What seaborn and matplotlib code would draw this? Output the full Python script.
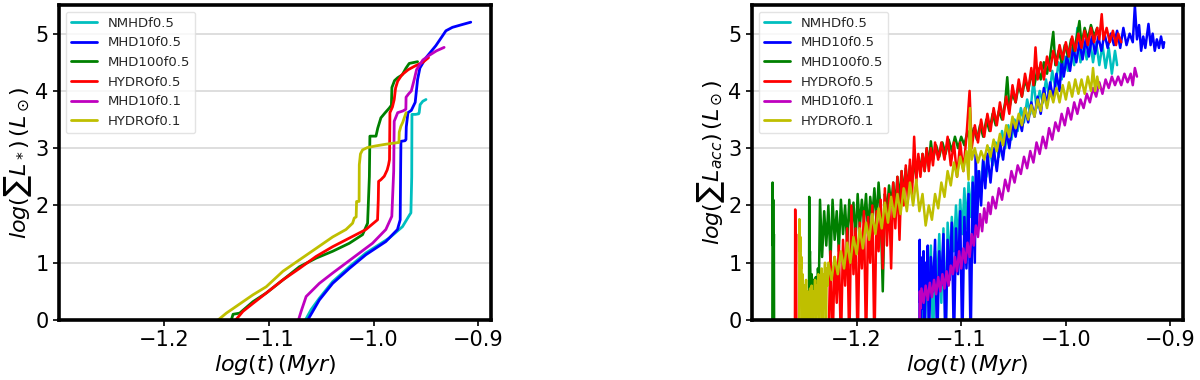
import numpy as np
import pandas as pd
import matplotlib
matplotlib.use("Agg")
import matplotlib.pyplot as plt
import seaborn as sns

# ---------------- data ----------------
series_names = ["NMHDf0.5", "MHD10f0.5", "MHD100f0.5", "HYDROf0.5", "MHD10f0.1", "HYDROf0.1"]
series_colors = ["#00bfbf", "#0000ff", "#008000", "#ff0000", "#bf00bf", "#bfbf00"]
x_ticks = [-1.2, -1.1, -1.0, -0.9]
y_ticks = [0, 1, 2, 3, 4, 5]

# Left panel: log(sum L_*)
L_nmhd05 = [(-1.0650, 0.00), (-1.0596, 0.18), (-1.0517, 0.38), (-1.0390, 0.67), (-1.0231, 0.93),
            (-1.0073, 1.17), (-0.9851, 1.43), (-0.9724, 1.63), (-0.9655, 1.84), (-0.9644, 1.87),
            (-0.9636, 2.50), (-0.9634, 3.59), (-0.9600, 3.59), (-0.9570, 3.60), (-0.9565, 3.62),
            (-0.9556, 3.76), (-0.9530, 3.82), (-0.9500, 3.85)]
L_mhd10f05 = [(-1.0628, 0.00), (-1.0580, 0.15), (-1.0517, 0.35), (-1.0390, 0.64), (-1.0231, 0.90),
              (-1.0073, 1.14), (-0.9883, 1.37), (-0.9772, 1.58), (-0.9746, 1.75), (-0.9742, 2.60),
              (-0.9739, 3.12), (-0.9700, 3.13), (-0.9691, 3.15), (-0.9688, 3.37), (-0.9672, 3.62),
              (-0.9640, 3.66), (-0.9603, 3.80), (-0.9580, 4.20), (-0.9558, 4.40), (-0.9500, 4.58),
              (-0.9406, 4.79), (-0.9343, 4.96), (-0.9310, 5.05), (-0.9248, 5.11), (-0.9152, 5.16),
              (-0.9073, 5.20)]
L_mhd100f05 = [(-1.1357, 0.00), (-1.1340, 0.10), (-1.1277, 0.12), (-1.1150, 0.32), (-1.1024, 0.47),
               (-1.0865, 0.70), (-1.0707, 0.93), (-1.0548, 1.08), (-1.0390, 1.20), (-1.0231, 1.34),
               (-1.0105, 1.49), (-1.0057, 1.69), (-1.0040, 2.50), (-1.0035, 3.21), (-1.0000, 3.21),
               (-0.9977, 3.21), (-0.9960, 3.35), (-0.9930, 3.53), (-0.9889, 3.62), (-0.9850, 3.70),
               (-0.9830, 3.75), (-0.9825, 4.06), (-0.9800, 4.18), (-0.9770, 4.23), (-0.9727, 4.28),
               (-0.9690, 4.40), (-0.9660, 4.48), (-0.9580, 4.51)]
L_hydro05 = [(-1.1315, 0.00), (-1.1246, 0.15), (-1.1150, 0.29), (-1.1024, 0.47), (-1.0865, 0.70),
             (-1.0707, 0.90), (-1.0548, 1.11), (-1.0390, 1.28), (-1.0231, 1.43), (-1.0073, 1.58),
             (-0.9962, 1.75), (-0.9955, 2.10), (-0.9952, 2.42), (-0.9930, 2.45), (-0.9898, 2.51),
             (-0.9870, 2.62), (-0.9857, 2.71), (-0.9848, 2.80), (-0.9844, 3.62), (-0.9820, 3.72),
             (-0.9803, 3.85), (-0.9790, 4.05), (-0.9770, 4.17), (-0.9730, 4.28), (-0.9670, 4.37),
             (-0.9610, 4.43), (-0.9530, 4.50), (-0.9476, 4.58)]
L_mhd10f01 = [(-1.0716, 0.00), (-1.0691, 0.15), (-1.0643, 0.41), (-1.0517, 0.64), (-1.0390, 0.82),
              (-1.0200, 1.08), (-1.0010, 1.34), (-0.9883, 1.58), (-0.9826, 1.81), (-0.9808, 2.60),
              (-0.9803, 3.47), (-0.9770, 3.62), (-0.9720, 3.65), (-0.9692, 3.68), (-0.9690, 3.89),
              (-0.9665, 3.95), (-0.9640, 4.00), (-0.9612, 4.20), (-0.9590, 4.37), (-0.9530, 4.54),
              (-0.9470, 4.62), (-0.9400, 4.70), (-0.9327, 4.76)]
L_hydro01 = [(-1.1483, 0.00), (-1.1404, 0.12), (-1.1340, 0.20), (-1.1150, 0.44), (-1.1024, 0.58),
             (-1.0865, 0.85), (-1.0707, 1.05), (-1.0548, 1.25), (-1.0390, 1.45), (-1.0263, 1.58),
             (-1.0200, 1.69), (-1.0184, 1.78), (-1.0166, 1.80), (-1.0162, 2.07), (-1.0150, 2.07),
             (-1.0138, 2.07), (-1.0136, 2.71), (-1.0125, 2.90), (-1.0105, 2.97), (-1.0060, 3.01),
             (-0.9978, 3.04), (-0.9880, 3.07), (-0.9758, 3.10), (-0.9755, 3.28), (-0.9740, 3.38),
             (-0.9722, 3.45), (-0.9690, 3.62)]

# Right panel: log(sum L_acc)
R_nmhd05 = [(-1.1375, -0.5), (-1.1370, 0.9), (-1.1365, 0.2), (-1.1360, 1.2), (-1.1350, -0.5),
            (-1.1330, 1.0), (-1.1310, 0.5), (-1.1290, 1.3), (-1.1270, -0.5), (-1.1250, 1.2),
            (-1.1230, 0.6), (-1.1210, 1.5), (-1.1190, 0.3), (-1.1170, 1.6), (-1.1150, -0.5),
            (-1.1130, 1.7), (-1.1110, 1.0), (-1.1090, 1.8), (-1.1070, 1.2), (-1.1050, 2.0),
            (-1.1030, 1.3), (-1.1010, 2.1), (-1.0990, 1.5), (-1.0970, 2.3), (-1.0950, 1.6),
            (-1.0930, 2.4), (-1.0910, 1.8), (-1.0890, 2.5), (-1.0870, 2.0), (-1.0850, 2.6),
            (-1.0820, 2.2), (-1.0790, 2.8), (-1.0760, 2.5), (-1.0730, 3.0), (-1.0700, 2.7),
            (-1.0670, 3.1), (-1.0640, 2.85), (-1.0610, 3.3), (-1.0580, 3.0), (-1.0550, 3.4),
            (-1.0520, 3.15), (-1.0490, 3.5), (-1.0460, 3.3), (-1.0430, 3.7), (-1.0400, 3.45),
            (-1.0370, 3.85), (-1.0340, 3.6), (-1.0310, 4.2), (-1.0280, 3.7), (-1.0250, 4.0),
            (-1.0220, 3.8), (-1.0190, 4.2), (-1.0160, 3.9), (-1.0130, 4.35), (-1.0100, 4.05),
            (-1.0070, 4.5), (-1.0040, 4.2), (-1.0010, 4.6), (-0.9980, 4.35), (-0.9950, 4.75),
            (-0.9920, 4.45), (-0.9890, 5.1), (-0.9860, 4.5), (-0.9830, 4.85), (-0.9800, 4.55),
            (-0.9770, 4.9), (-0.9740, 4.5), (-0.9710, 4.85), (-0.9680, 4.45), (-0.9650, 4.8),
            (-0.9620, 4.4), (-0.9590, 4.75), (-0.9560, 4.3), (-0.9530, 4.7), (-0.9510, 4.45)]
R_mhd10f05 = [(-1.1400, -0.5), (-1.1397, 1.4), (-1.1393, 0.3), (-1.1389, 1.1), (-1.1385, -0.5),
              (-1.1380, 0.9), (-1.1370, 0.2), (-1.1360, 1.2), (-1.1350, -0.5), (-1.1340, 1.0),
              (-1.1330, 0.4), (-1.1320, 1.3), (-1.1310, -0.5), (-1.1290, 1.1), (-1.1270, 0.5),
              (-1.1250, 1.4), (-1.1230, -0.5), (-1.1210, 1.2), (-1.1190, 0.6), (-1.1170, 1.5),
              (-1.1150, -0.5), (-1.1130, 1.4), (-1.1110, 0.7), (-1.1090, 1.7), (-1.1070, -0.5),
              (-1.1050, 1.6), (-1.1030, 0.8), (-1.1010, 1.9), (-1.0990, -0.5), (-1.0970, 1.8),
              (-1.0950, 0.9), (-1.0930, 2.2), (-1.0910, -0.5), (-1.0890, 2.4), (-1.0870, 1.0),
              (-1.0860, 2.9), (-1.0850, 1.6), (-1.0830, 2.6), (-1.0810, 2.0), (-1.0790, 2.8),
              (-1.0770, 2.3), (-1.0750, 2.9), (-1.0720, 2.4), (-1.0690, 3.0), (-1.0660, 2.6),
              (-1.0630, 3.1), (-1.0600, 2.8), (-1.0570, 3.3), (-1.0540, 3.0), (-1.0510, 3.45),
              (-1.0480, 3.2), (-1.0450, 3.55), (-1.0420, 3.3), (-1.0390, 3.7), (-1.0360, 3.45),
              (-1.0330, 3.8), (-1.0300, 3.55), (-1.0270, 3.9), (-1.0240, 3.6), (-1.0210, 4.05),
              (-1.0180, 3.75), (-1.0150, 4.15), (-1.0120, 3.85), (-1.0090, 4.3), (-1.0060, 4.0),
              (-1.0040, 4.55), (-1.0020, 4.25), (-0.9990, 4.6), (-0.9960, 4.35), (-0.9930, 4.75),
              (-0.9900, 4.5), (-0.9870, 4.85), (-0.9840, 4.55), (-0.9810, 4.9), (-0.9780, 4.6),
              (-0.9750, 4.95), (-0.9720, 4.65), (-0.9690, 4.95), (-0.9660, 4.7), (-0.9630, 5.0),
              (-0.9600, 4.75), (-0.9570, 5.0), (-0.9540, 4.8), (-0.9510, 5.05), (-0.9480, 4.75),
              (-0.9450, 5.1), (-0.9420, 4.8), (-0.9390, 5.0), (-0.9360, 4.85), (-0.9340, 5.49),
              (-0.9320, 4.9), (-0.9300, 5.15), (-0.9280, 4.7), (-0.9260, 4.95), (-0.9240, 4.75),
              (-0.9210, 5.17), (-0.9190, 4.8), (-0.9170, 5.0), (-0.9150, 4.7), (-0.9130, 4.9),
              (-0.9110, 4.75), (-0.9090, 4.95), (-0.9070, 4.75), (-0.9060, 4.85)]
R_mhd100f05 = [(-1.2806, -0.6), (-1.2803, 2.4), (-1.2800, 1.3), (-1.2797, 2.1), (-1.2794, 0.8),
               (-1.2791, 1.5), (-1.2788, -0.6), (-1.2456, -0.6), (-1.2453, 2.15), (-1.2450, 1.0),
               (-1.2446, 1.2), (-1.2440, 0.6), (-1.2430, 0.8), (-1.2420, 0.5), (-1.2410, 0.7),
               (-1.2400, 0.4), (-1.2390, 0.75), (-1.2380, 0.45), (-1.2370, 0.9), (-1.2360, 0.7),
               (-1.2350, 2.1), (-1.2330, 1.1), (-1.2310, 1.9), (-1.2290, 1.3), (-1.2270, 2.0),
               (-1.2250, 1.0), (-1.2230, 2.1), (-1.2210, 1.4), (-1.2190, 1.9), (-1.2170, 1.2),
               (-1.2150, 2.1), (-1.2130, 1.5), (-1.2110, 2.0), (-1.2090, 1.3), (-1.2070, 2.1),
               (-1.2050, 1.6), (-1.2030, 2.05), (-1.2010, 1.4), (-1.1990, 2.2), (-1.1970, 1.6),
               (-1.1950, 2.1), (-1.1930, 1.7), (-1.1910, 2.2), (-1.1890, 1.5), (-1.1870, 2.15),
               (-1.1850, 1.8), (-1.1830, 2.3), (-1.1810, 1.7), (-1.1790, 2.4), (-1.1770, 1.9),
               (-1.1750, 0.5), (-1.1730, 2.2), (-1.1710, 1.9), (-1.1690, 2.35), (-1.1670, 2.0),
               (-1.1650, 2.4), (-1.1630, 2.0), (-1.1610, 2.5), (-1.1590, 2.1), (-1.1570, 2.6),
               (-1.1550, 2.2), (-1.1530, 2.65), (-1.1510, 2.3), (-1.1490, 2.7), (-1.1470, 2.4),
               (-1.1450, 2.8), (-1.1430, 2.5), (-1.1410, 2.85), (-1.1390, 2.6), (-1.1370, 2.9),
               (-1.1350, 2.6), (-1.1330, 3.0), (-1.1310, 2.7), (-1.1290, 3.12), (-1.1270, 2.8),
               (-1.1240, 3.05), (-1.1210, 2.85), (-1.1180, 3.1), (-1.1150, 2.9), (-1.1120, 3.15),
               (-1.1090, 2.95), (-1.1060, 3.2), (-1.1030, 3.0), (-1.1000, 3.2), (-1.0970, 3.05),
               (-1.0940, 3.3), (-1.0910, 3.1), (-1.0880, 3.35), (-1.0850, 3.15), (-1.0820, 3.4),
               (-1.0790, 3.2), (-1.0760, 3.5), (-1.0730, 3.3), (-1.0700, 3.6), (-1.0670, 3.4),
               (-1.0640, 3.65), (-1.0610, 3.5), (-1.0580, 3.8), (-1.0560, 4.24), (-1.0540, 3.7),
               (-1.0510, 3.95), (-1.0480, 3.8), (-1.0450, 4.1), (-1.0420, 3.9), (-1.0390, 4.2),
               (-1.0360, 4.0), (-1.0330, 4.3), (-1.0300, 4.1), (-1.0270, 4.4), (-1.0240, 4.2),
               (-1.0210, 4.5), (-1.0180, 4.3), (-1.0150, 4.6), (-1.0120, 5.03), (-1.0100, 4.45),
               (-1.0070, 4.7), (-1.0040, 4.5), (-1.0010, 4.8), (-0.9980, 4.6), (-0.9950, 4.9),
               (-0.9920, 4.7), (-0.9890, 5.0), (-0.9870, 5.22), (-0.9850, 4.8), (-0.9820, 5.1),
               (-0.9790, 4.9), (-0.9760, 5.15), (-0.9730, 4.95), (-0.9700, 5.1)]
R_hydro05 = [(-1.2590, -0.6), (-1.2587, 1.93), (-1.2583, 0.6), (-1.2579, 1.5), (-1.2575, -0.6),
             (-1.2270, -0.5), (-1.2250, 1.2), (-1.2230, -0.5), (-1.2210, 1.1), (-1.2190, 0.3),
             (-1.2170, 1.3), (-1.2150, -0.5), (-1.2130, 1.4), (-1.2110, 0.6), (-1.2090, 1.6),
             (-1.2070, -0.5), (-1.2050, 2.0), (-1.2030, 0.8), (-1.2010, 1.6), (-1.1990, -0.5),
             (-1.1970, 1.7), (-1.1950, 0.9), (-1.1930, 1.9), (-1.1910, -0.5), (-1.1890, 1.8),
             (-1.1870, 1.0), (-1.1850, 2.0), (-1.1830, -0.5), (-1.1810, 1.9), (-1.1790, 1.2),
             (-1.1770, 2.1), (-1.1750, 0.9), (-1.1730, 2.3), (-1.1710, 1.3), (-1.1690, 2.2),
             (-1.1670, 0.9), (-1.1650, 2.4), (-1.1630, 1.6), (-1.1610, 2.5), (-1.1590, 1.4),
             (-1.1570, 2.6), (-1.1550, 2.0), (-1.1530, 2.7), (-1.1510, 2.1), (-1.1490, 2.8),
             (-1.1470, 2.2), (-1.1450, 3.2), (-1.1430, 2.4), (-1.1410, 2.9), (-1.1390, 2.5),
             (-1.1370, 2.9), (-1.1350, 2.6), (-1.1330, 3.0), (-1.1310, 2.6), (-1.1290, 3.0),
             (-1.1270, 2.7), (-1.1250, 3.1), (-1.1220, 2.8), (-1.1190, 3.1), (-1.1160, 2.8),
             (-1.1130, 3.2), (-1.1100, 2.7), (-1.1070, 3.1), (-1.1040, 2.5), (-1.1010, 3.1),
             (-1.0980, 2.6), (-1.0950, 3.2), (-1.0920, 4.0), (-1.0900, 3.0), (-1.0870, 3.4),
             (-1.0840, 3.1), (-1.0810, 3.5), (-1.0780, 3.2), (-1.0750, 3.6), (-1.0720, 3.3),
             (-1.0690, 3.7), (-1.0660, 3.4), (-1.0630, 3.8), (-1.0600, 3.5), (-1.0570, 3.9),
             (-1.0540, 3.6), (-1.0510, 4.1), (-1.0480, 3.8), (-1.0450, 4.2), (-1.0420, 3.9),
             (-1.0390, 4.3), (-1.0360, 4.0), (-1.0330, 4.4), (-1.0310, 4.1), (-1.0290, 4.76),
             (-1.0270, 4.2), (-1.0240, 4.5), (-1.0210, 4.2), (-1.0180, 4.6), (-1.0150, 4.35),
             (-1.0120, 4.7), (-1.0090, 4.45), (-1.0060, 4.8), (-1.0030, 4.55), (-1.0000, 4.85),
             (-0.9970, 4.6), (-0.9940, 4.95), (-0.9910, 4.7), (-0.9880, 5.0), (-0.9850, 4.75),
             (-0.9820, 5.05), (-0.9790, 4.8), (-0.9760, 5.1), (-0.9730, 4.85), (-0.9700, 5.1),
             (-0.9680, 4.9), (-0.9657, 5.34), (-0.9640, 4.9), (-0.9610, 5.1), (-0.9580, 4.85),
             (-0.9550, 5.05), (-0.9520, 4.8), (-0.9500, 5.0), (-0.9470, 4.85)]
R_mhd10f01 = [(-1.1400, -0.5), (-1.1395, 0.5), (-1.1390, 0.2), (-1.1380, 0.55), (-1.1360, 0.3),
              (-1.1340, 0.6), (-1.1320, 0.35), (-1.1300, 0.65), (-1.1280, 0.4), (-1.1260, 0.7),
              (-1.1240, 0.45), (-1.1220, 0.75), (-1.1200, 0.5), (-1.1180, 0.8), (-1.1160, 0.55),
              (-1.1140, 0.85), (-1.1120, 0.6), (-1.1100, 0.95), (-1.1080, 0.8), (-1.1060, 1.1),
              (-1.1040, 0.85), (-1.1020, 1.2), (-1.1000, 0.9), (-1.0980, 1.25), (-1.0960, 1.0),
              (-1.0940, 1.35), (-1.0920, 1.1), (-1.0900, 1.5), (-1.0880, 1.3), (-1.0860, 1.65),
              (-1.0840, 1.45), (-1.0820, 1.85), (-1.0800, 1.55), (-1.0780, 1.95), (-1.0760, 1.7),
              (-1.0740, 2.05), (-1.0720, 1.85), (-1.0700, 2.15), (-1.0670, 1.95), (-1.0640, 2.3),
              (-1.0610, 2.1), (-1.0580, 2.45), (-1.0550, 2.25), (-1.0520, 2.6), (-1.0490, 2.4),
              (-1.0460, 2.7), (-1.0430, 2.55), (-1.0400, 2.85), (-1.0370, 2.65), (-1.0340, 2.95),
              (-1.0310, 2.75), (-1.0280, 3.1), (-1.0250, 2.9), (-1.0220, 3.2), (-1.0190, 3.0),
              (-1.0160, 3.35), (-1.0130, 3.15), (-1.0100, 3.45), (-1.0070, 3.3), (-1.0040, 3.6),
              (-1.0010, 3.4), (-0.9980, 3.7), (-0.9950, 3.5), (-0.9920, 3.8), (-0.9890, 3.6),
              (-0.9860, 3.85), (-0.9830, 3.7), (-0.9800, 3.95), (-0.9770, 3.8), (-0.9740, 4.05),
              (-0.9710, 3.9), (-0.9680, 4.15), (-0.9650, 3.95), (-0.9620, 4.2), (-0.9590, 4.05),
              (-0.9560, 4.25), (-0.9530, 4.1), (-0.9500, 4.25), (-0.9470, 4.1), (-0.9440, 4.3),
              (-0.9410, 4.15), (-0.9380, 4.3), (-0.9360, 4.1), (-0.9340, 4.4), (-0.9320, 4.25)]
R_hydro01 = [(-1.2549, -0.5), (-1.2547, 1.76), (-1.2542, 1.2), (-1.2537, 1.45), (-1.2532, 0.9),
             (-1.2527, 1.1), (-1.2522, -0.5), (-1.2517, 0.8), (-1.2510, 0.4), (-1.2505, -0.5),
             (-1.2498, 0.6), (-1.2490, 0.2), (-1.2483, 0.7), (-1.2476, -0.5), (-1.2469, 0.5),
             (-1.2460, 0.3), (-1.2452, -0.5), (-1.2445, 0.55), (-1.2437, 0.25), (-1.2430, 0.6),
             (-1.2422, -0.5), (-1.2414, 0.5), (-1.2405, 0.3), (-1.2397, 0.7), (-1.2390, -0.5),
             (-1.2382, 0.6), (-1.2374, 0.35), (-1.2366, 0.8), (-1.2358, -0.5), (-1.2350, 0.7),
             (-1.2342, 0.45), (-1.2334, 0.9), (-1.2326, -0.5), (-1.2318, 0.8), (-1.2310, 0.5),
             (-1.2302, 1.0), (-1.2294, -0.5), (-1.2286, 0.9), (-1.2278, 0.6), (-1.2270, 1.0),
             (-1.2240, 0.7), (-1.2210, 1.1), (-1.2180, 0.8), (-1.2150, 1.2), (-1.2120, 0.9),
             (-1.2090, 1.35), (-1.2060, 1.0), (-1.2030, 1.45), (-1.2000, 1.15), (-1.1970, 1.6),
             (-1.1940, 1.25), (-1.1910, 1.7), (-1.1880, 1.4), (-1.1850, 1.85), (-1.1820, 1.5),
             (-1.1790, 1.95), (-1.1760, 1.6), (-1.1730, 2.05), (-1.1700, 1.7), (-1.1670, 2.15),
             (-1.1640, 1.8), (-1.1610, 2.2), (-1.1580, 1.85), (-1.1550, 2.3), (-1.1520, 1.9),
             (-1.1490, 2.4), (-1.1460, 2.0), (-1.1430, 2.45), (-1.1400, 1.9), (-1.1370, 2.2),
             (-1.1340, 1.65), (-1.1310, 2.0), (-1.1280, 1.75), (-1.1250, 2.2), (-1.1220, 1.95),
             (-1.1190, 2.4), (-1.1160, 2.15), (-1.1130, 2.6), (-1.1100, 2.35), (-1.1070, 2.75),
             (-1.1040, 2.5), (-1.1010, 2.85), (-1.0980, 2.6), (-1.0950, 2.95), (-1.0930, 2.45),
             (-1.0916, 3.7), (-1.0900, 2.8), (-1.0870, 3.0), (-1.0840, 2.75), (-1.0810, 2.95),
             (-1.0780, 2.8), (-1.0750, 3.05), (-1.0720, 2.85), (-1.0690, 3.15), (-1.0660, 2.95),
             (-1.0630, 3.25), (-1.0600, 3.05), (-1.0570, 3.4), (-1.0540, 3.2), (-1.0510, 3.55),
             (-1.0480, 3.35), (-1.0450, 3.6), (-1.0420, 3.4), (-1.0390, 3.7), (-1.0360, 3.5),
             (-1.0330, 3.75), (-1.0300, 3.55), (-1.0270, 3.85), (-1.0240, 3.65), (-1.0210, 3.95),
             (-1.0180, 3.7), (-1.0150, 4.0), (-1.0120, 3.8), (-1.0090, 4.05), (-1.0060, 3.8),
             (-1.0030, 4.1), (-1.0000, 3.85), (-0.9970, 4.15), (-0.9940, 3.9), (-0.9910, 4.2),
             (-0.9880, 3.95), (-0.9850, 4.2), (-0.9820, 3.95), (-0.9790, 4.25), (-0.9760, 4.0),
             (-0.9740, 4.4), (-0.9720, 4.0), (-0.9700, 4.25), (-0.9680, 4.05)]

left_data = [L_nmhd05, L_mhd10f05, L_mhd100f05, L_hydro05, L_mhd10f01, L_hydro01]
right_data = [R_nmhd05, R_mhd10f05, R_mhd100f05, R_hydro05, R_mhd10f01, R_hydro01]


def to_frame(groups):
    frames = []
    for name, pts in zip(series_names, groups):
        arr = np.array(pts)
        frames.append(pd.DataFrame({"t": arr[:, 0], "L": arr[:, 1], "series": name}))
    return pd.concat(frames, ignore_index=True)


# ---------------- style ----------------
sns.set_theme(style="ticks")
plt.rcParams["font.family"] = ["DejaVu Sans"]
plt.rcParams["mathtext.fontset"] = "dejavusans"

fig = plt.figure(figsize=(12, 3.8), dpi=100)
ax1 = fig.add_axes([59 / 1200, 60 / 380, 432 / 1200, 315 / 380])
ax2 = fig.add_axes([752 / 1200, 60 / 380, 431 / 1200, 315 / 380])

palette = dict(zip(series_names, series_colors))

for ax, groups, ylab, lw in [(ax1, left_data, r"$log(\sum L_*)\,(L_\odot)$", 2.0),
                             (ax2, right_data, r"$log(\sum L_{acc})\,(L_\odot)$", 1.8)]:
    df = to_frame(groups)
    sns.lineplot(data=df, x="t", y="L", hue="series", hue_order=series_names,
                 palette=palette, sort=False, estimator=None,
                 linewidth=lw, ax=ax)
    ax.set_xlim(-1.3, -0.888)
    ax.set_ylim(0, 5.5)
    ax.set_xticks(x_ticks)
    ax.set_yticks(y_ticks)
    ax.set_xticklabels([f"{v:.1f}".replace("-", "\u2212") for v in x_ticks])
    ax.set_yticklabels([str(v) for v in y_ticks])
    ax.tick_params(axis="both", labelsize=15, colors="black", width=1.2, length=4)
    ax.yaxis.grid(True, color="#d8d8d8", linewidth=1.2)
    ax.xaxis.grid(False)
    ax.set_axisbelow(True)
    for sp in ax.spines.values():
        sp.set_visible(True)
        sp.set_color("black")
        sp.set_linewidth(2.6)
    ax.set_xlabel(r"$log(t)\,(Myr)$", fontsize=16, color="black", labelpad=2)
    ax.set_ylabel(ylab, fontsize=16, color="black")
    ax.yaxis.set_label_coords(-0.058, 0.5)
    leg = ax.legend(loc="upper left", fontsize=9.5, frameon=True, handlelength=2.0,
                    borderaxespad=0.5)
    leg.get_frame().set_edgecolor("#dddddd")
    for line in leg.get_lines():
        line.set_linewidth(2)

fig.savefig("out.png", dpi=100)
